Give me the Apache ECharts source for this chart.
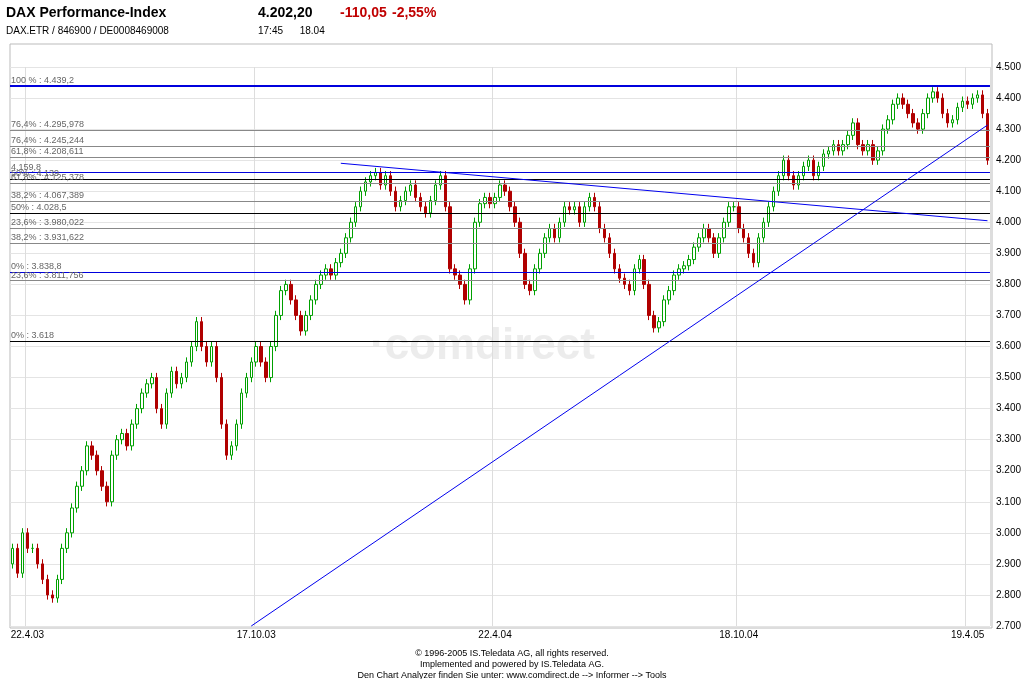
<!DOCTYPE html>
<html><head><meta charset="utf-8">
<script src="https://cdn.jsdelivr.net/npm/echarts@6/dist/echarts.min.js"></script>
<style>body{margin:0;background:#fff}#main{width:1024px;height:679px}</style>
</head><body><div id="main"></div>
<script>
// closes, roughly every 2-3 trading days, 22.4.03 .. 18.4.05
var closes = [2950,2870,3000,2950,2950,2900,2850,2800,2790,2850,2950,3000,3080,3150,3200,3280,3250,3200,3150,3100,
  3250,3300,3320,3280,3350,3400,3450,3480,3500,3400,3350,3450,3520,3480,3500,3550,3600,3680,3600,3550,
  3600,3500,3350,3250,3280,3350,3450,3500,3550,3600,3550,3500,3600,3700,3780,3800,3750,3700,3650,3700,
  3750,3800,3830,3850,3830,3870,3900,3950,4000,4050,4100,4130,4150,4160,4120,4150,4100,4050,4070,4100,
  4120,4080,4050,4030,4070,4120,4150,4050,3850,3830,3800,3750,3850,4000,4060,4080,4060,4080,4120,4100,
  4050,4000,3900,3800,3780,3850,3900,3950,3980,3950,4000,4050,4040,4050,4000,4050,4080,4050,3980,3950,
  3900,3850,3820,3800,3780,3850,3880,3800,3700,3660,3680,3750,3780,3830,3850,3860,3880,3920,3950,3980,
  3950,3900,3950,4000,4050,4050,3980,3950,3900,3870,3950,4000,4050,4100,4150,4200,4150,4120,4150,4180,
  4200,4150,4180,4220,4230,4250,4230,4250,4280,4320,4250,4230,4250,4200,4230,4300,4330,4380,4400,4380,
  4350,4320,4300,4350,4400,4420,4400,4350,4320,4330,4370,4390,4380,4400,4410,4350,4200];
var firstOpen = 2900;
var xLabels = {3: '22.4.03', 49: '17.10.03', 97: '22.4.04', 146: '18.10.04', 192: '19.4.05'};
var fibLevels = [
  [4439.2, '100 % : 4.439,2', '#0000dd', 2],
  [4295.978, '76,4% : 4.295,978', '#888', 1],
  [4245.244, '76,4% : 4.245,244', '#888', 1],
  [4208.611, '61,8% : 4.208,611', '#888', 1],
  [4159.8, '4.159,8', '#0000dd', 1],
  [4139, '50% : 4.139', '#000', 1],
  [4125.378, '61,8% : 4.125,378', '#888', 1],
  [4067.389, '38,2% : 4.067,389', '#888', 1],
  [4028.5, '50% : 4.028,5', '#000', 1],
  [3980.022, '23,6% : 3.980,022', '#888', 1],
  [3931.622, '38,2% : 3.931,622', '#888', 1],
  [3838.8, '0% : 3.838,8', '#0000dd', 1],
  [3811.756, '23,6% : 3.811,756', '#888', 1],
  [3618, '0% : 3.618', '#000', 1]
];
var trendLines = [[[66, 4190], [196, 4005]], [[48, 2700], [196, 4313]]];

var cats = closes.map(function (c, i) { return i; });
var ohlc = closes.map(function (c, i) {
  var o = i ? closes[i - 1] : firstOpen;
  return [o, c, Math.min(o, c) - 15, Math.max(o, c) + 15];
});
function fmt(v) { return String(v).replace(/\B(?=(\d{3})+(?!\d))/g, '.'); }

var marks = fibLevels.map(function (f) {
  return { yAxis: f[0], lineStyle: { color: f[2], width: f[3], type: 'solid' },
    label: { show: true, formatter: f[1], position: 'insideStartTop', color: '#666', fontSize: 9, distance: 1 } };
});
trendLines.forEach(function (t) {
  marks.push([{ coord: t[0], lineStyle: { color: '#0000ee', width: 1, type: 'solid' }, label: { show: false } }, { coord: t[1] }]);
});

var chart = echarts.init(document.getElementById('main'));
chart.setOption({
  animation: false,
  grid: { left: 10, right: 32, top: 67, bottom: 53 },
  xAxis: { type: 'category', data: cats, boundaryGap: true,
    axisLine: { show: false }, axisTick: { show: false },
    axisLabel: { interval: 0, fontSize: 10, color: '#000', margin: 4,
      formatter: function (v, i) { return xLabels[i] || ''; } },
    splitLine: { show: true, interval: function (i) { return xLabels[i] !== undefined; },
      lineStyle: { color: '#ddd' } } },
  yAxis: { type: 'value', position: 'right', min: 2700, max: 4500, interval: 100,
    axisLine: { show: false }, axisTick: { show: false },
    axisLabel: { fontSize: 10, color: '#000', margin: 6, formatter: fmt },
    splitLine: { lineStyle: { color: '#e4e4e4' } } },
  series: [{
    type: 'candlestick', data: ohlc, barWidth: 3,
    itemStyle: { color: '#fff', borderColor: '#00a000', color0: '#b00000', borderColor0: '#b00000', borderWidth: 1 },
    markLine: { symbol: 'none', silent: true, data: marks }
  }],
  graphic: [
    { type: 'rect', shape: { x: 10, y: 44, width: 982, height: 584 }, style: { fill: 'none', stroke: '#bbb' } },
    { type: 'text', left: 370, top: 325, style: { text: '·comdirect', font: 'bold 44px Arial', fill: 'rgba(200,200,200,0.35)' } },
    { type: 'text', left: 6, top: 6, style: { text: 'DAX Performance-Index', font: 'bold 14px Arial', fill: '#000' } },
    { type: 'text', left: 6, top: 26, style: { text: 'DAX.ETR / 846900 / DE0008469008', font: '10px Arial', fill: '#000' } },
    { type: 'text', left: 258, top: 6, style: { text: '4.202,20', font: 'bold 14px Arial', fill: '#000' } },
    { type: 'text', left: 340, top: 6, style: { text: '-110,05', font: 'bold 14px Arial', fill: '#c00000' } },
    { type: 'text', left: 392, top: 6, style: { text: '-2,55%', font: 'bold 14px Arial', fill: '#c00000' } },
    { type: 'text', left: 258, top: 26, style: { text: '17:45      18.04', font: '10px Arial', fill: '#000' } },
    { type: 'text', x: 512, y: 648, style: { text: '© 1996-2005 IS.Teledata AG, all rights reserved.\nImplemented and powered by IS.Teledata AG.\nDen Chart Analyzer finden Sie unter: www.comdirect.de --> Informer --> Tools', font: '9px Arial', fill: '#000', align: 'center', lineHeight: 11 } }
  ]
});
</script></body></html>
